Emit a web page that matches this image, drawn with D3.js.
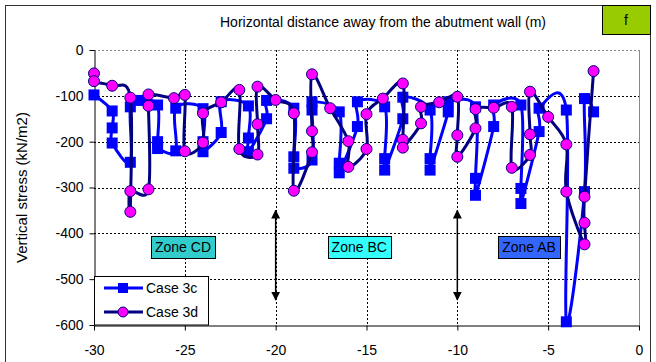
<!DOCTYPE html>
<html>
<head>
<meta charset="utf-8">
<script src="https://cdn.jsdelivr.net/npm/d3@7"></script>
<style>
  html, body { margin: 0; padding: 0; background: #fff; }
  svg { display: block; font-family: "Liberation Sans", Arial, sans-serif; }
</style>
</head>
<body>
<svg id="chart" width="656" height="362"></svg>
<script>
// Axis ticks
const xTicks = [-30, -25, -20, -15, -10, -5, 0];
const yTicks = [0, -100, -200, -300, -400, -500, -600];

// Case 3c: distance (m) and vertical stress (kN/m2), in drawing order
const case3cX = [-30, -29, -29, -29, -28, -28, -27.5, -26.5, -26.5, -26.5, -25.5, -25.5,
  -24, -24, -24, -23, -23, -21.5, -21.5, -21.5, -20.5, -20.5, -19, -19, -19, -18, -18, -18,
  -16.5, -16.5, -16.5, -15.5, -15.5, -14, -14, -14, -13, -13, -11.5, -11.5, -11.5,
  -10.5, -10.5, -9, -9, -9, -8, -8, -6.5, -6.5, -6.5, -5.5, -5.5, -4, -4, -3, -3, -2.5];
const case3cY = [-98, -133, -170, -203, -245, -124, -110, -120, -200, -215, -220, -127,
  -128, -200, -222, -180, -113, -122, -192, -222, -150, -110, -127, -233, -258, -240, -131, -113,
  -135, -247, -268, -167, -113, -124, -237, -262, -150, -103, -131, -237, -262,
  -135, -113, -124, -280, -317, -167, -120, -120, -302, -335, -178, -127, -131, -593, -309, -106, -135];

// Case 3d: distance (m) and vertical stress (kN/m2), in drawing order
const case3dX = [-30, -30, -29, -28, -28, -28, -27, -27, -27, -25.6, -25, -25, -24, -24, -23,
  -22, -22, -21, -21, -21, -20, -19, -19, -18, -18, -18, -17, -16, -16, -15, -15, -14.1,
  -13, -13, -13, -12, -12, -11, -10, -10, -10, -9, -9, -8, -7, -7, -6, -6, -6, -5, -4, -4,
  -3, -3, -3, -2.5];
const case3dY = [-51, -68, -78, -104, -353, -308, -304, -122, -97, -105, -98, -221, -202, -138, -114,
  -87, -216, -228, -162, -80, -109, -138, -307, -223, -177, -53, -127, -199, -255, -216, -140, -106,
  -73, -196, -213, -160, -124, -114, -102, -186, -233, -171, -129, -126, -124, -257, -229, -184, -91, -146, -206, -309,
  -424, -377, -320, -46];

// Zone labels and the double-headed markers between them
const zones = [
  { label: "Zone CD", x: -25.1, fill: "#33cccc" },
  { label: "Zone BC", x: -15.4, fill: "#33ffff" },
  { label: "Zone AB", x: -6.05, fill: "#3366ff" }
];
const zoneY = -430;
const boundaryX = [-20, -10];
const boundaryY = [-350, -545];

const svg = d3.select("#chart");

const x = d3.scaleLinear().domain([-30, 0]).range([94, 639]);
const y = d3.scaleLinear().domain([-600, 0]).range([325, 50]);

// outer chart border
svg.append("rect").attr("x", 5.5).attr("y", 5.5).attr("width", 645).attr("height", 400)
  .attr("fill", "#fff").attr("stroke", "#333").attr("stroke-width", 1);

// grid
const grid = svg.append("g").attr("stroke", "#000").attr("stroke-width", 1).attr("stroke-dasharray", "2,2");
yTicks.filter(v => v !== -600).forEach(v => {
  grid.append("line").attr("x1", x(-30)).attr("x2", x(0))
    .attr("y1", Math.round(y(v)) + 0.5).attr("y2", Math.round(y(v)) + 0.5)
    .attr("stroke", v === 0 ? "#888" : "#000");
});
xTicks.filter(v => v !== -30 && v !== 0).forEach(v => {
  grid.append("line").attr("y1", y(0)).attr("y2", y(-600))
    .attr("x1", Math.round(x(v)) + 0.5).attr("x2", Math.round(x(v)) + 0.5);
});
// right frame
svg.append("line").attr("x1", Math.round(x(0)) + 0.5).attr("x2", Math.round(x(0)) + 0.5)
  .attr("y1", y(0)).attr("y2", y(-600)).attr("stroke", "#888");

// axes
const fmt = d => d === 0 ? "0" : String(d);
const xAxis = d3.axisBottom(x).tickValues(xTicks).tickFormat(fmt).tickSize(5).tickSizeOuter(0).tickPadding(15);
const yAxis = d3.axisLeft(y).tickValues(yTicks).tickFormat(fmt).tickSize(5).tickSizeOuter(0).tickPadding(6);

const gx = svg.append("g").attr("transform", `translate(0,${Math.round(y(-600)) + 0.5})`).call(xAxis);
const gy = svg.append("g").attr("transform", `translate(${Math.round(x(-30)) + 0.5},0)`).call(yAxis);
[gx, gy].forEach(g => {
  g.selectAll("path, line").attr("stroke", "#000");
  g.selectAll("text").attr("fill", "#000").style("font-size", "14px")
    .style("font-family", "'Liberation Sans', Arial, sans-serif");
});

// titles
svg.append("text").attr("x", 383).attr("y", 27).attr("text-anchor", "middle")
  .style("font-size", "14px").attr("fill", "#000")
  .text("Horizontal distance away from the abutment wall (m)");
svg.append("text").attr("transform", `translate(27,${(y(0) + y(-600)) / 2}) rotate(-90)`)
  .attr("text-anchor", "middle").style("font-size", "15px").attr("fill", "#000")
  .text("Vertical stress (kN/m2)");

// panel tag
svg.append("rect").attr("x", 602.5).attr("y", 5.5).attr("width", 48).attr("height", 29)
  .attr("fill", "#99cc00").attr("stroke", "#000");
svg.append("text").attr("x", 626).attr("y", 25).attr("text-anchor", "middle")
  .style("font-size", "14px").text("f");

// zone boxes
zones.forEach(z => {
  const g = svg.append("g");
  const t = g.append("text").attr("x", x(z.x)).attr("y", y(zoneY) + 5).attr("text-anchor", "middle")
    .style("font-size", "14px").attr("fill", "#000").text(z.label);
  const bb = t.node().getBBox();
  g.insert("rect", "text").attr("x", Math.round(bb.x - 4) + 0.5).attr("y", Math.round(y(zoneY) - 11) + 0.5)
    .attr("width", Math.round(bb.width + 8)).attr("height", 22)
    .attr("fill", z.fill).attr("stroke", "#000");
});

// boundary arrows
const defs = svg.append("defs");
defs.append("marker").attr("id", "ah").attr("viewBox", "0 0 10 10").attr("refX", 9).attr("refY", 5)
  .attr("markerWidth", 9).attr("markerHeight", 9).attr("markerUnits", "userSpaceOnUse")
  .attr("orient", "auto-start-reverse")
  .append("path").attr("d", "M0,0 L10,5 L0,10 z").attr("fill", "#000");
boundaryX.forEach(bx => {
  svg.append("line").attr("x1", x(bx)).attr("x2", x(bx))
    .attr("y1", y(boundaryY[0])).attr("y2", y(boundaryY[1]))
    .attr("stroke", "#000").attr("stroke-width", 1.5)
    .attr("marker-start", "url(#ah)").attr("marker-end", "url(#ah)");
});

// series
const line = d3.line().x(d => x(d[0])).y(d => y(d[1])).curve(d3.curveCatmullRom.alpha(0));
const c3c = case3cX.map((v, i) => [v, case3cY[i]]);
const c3d = case3dX.map((v, i) => [v, case3dY[i]]);

const plot = svg.append("g");
plot.append("path").datum(c3c).attr("d", line).attr("fill", "none")
  .attr("stroke", "#0000ff").attr("stroke-width", 3).attr("stroke-linejoin", "round");
plot.selectAll("rect.c3c").data(c3c).enter().append("rect").attr("class", "c3c")
  .attr("x", d => x(d[0]) - 5.5).attr("y", d => y(d[1]) - 5.5).attr("width", 11).attr("height", 11)
  .attr("fill", "#0000ff");

plot.append("path").datum(c3d).attr("d", line).attr("fill", "none")
  .attr("stroke", "#000080").attr("stroke-width", 3).attr("stroke-linejoin", "round");
plot.selectAll("circle.c3d").data(c3d).enter().append("circle").attr("class", "c3d")
  .attr("cx", d => x(d[0])).attr("cy", d => y(d[1])).attr("r", 5.5)
  .attr("fill", "#ff00ff").attr("stroke", "#000080").attr("stroke-width", 1);

// legend
const lg = svg.append("g");
lg.append("rect").attr("x", 94.5).attr("y", 276.5).attr("width", 114).attr("height", 48.5)
  .attr("fill", "#fff").attr("stroke", "#000");
const legendItems = [["Case 3c", 288], ["Case 3d", 312]];
legendItems.forEach(([label, ly], i) => {
  lg.append("line").attr("x1", 104).attr("x2", 143).attr("y1", ly).attr("y2", ly)
    .attr("stroke", i === 0 ? "#0000ff" : "#000080").attr("stroke-width", 3);
  if (i === 0) {
    lg.append("rect").attr("x", 118).attr("y", ly - 5).attr("width", 10).attr("height", 10).attr("fill", "#0000ff");
  } else {
    lg.append("circle").attr("cx", 123).attr("cy", ly).attr("r", 5)
      .attr("fill", "#ff00ff").attr("stroke", "#000080");
  }
  lg.append("text").attr("x", 146).attr("y", ly + 5).style("font-size", "14px").attr("fill", "#000").text(label);
});
</script>
</body>
</html>
